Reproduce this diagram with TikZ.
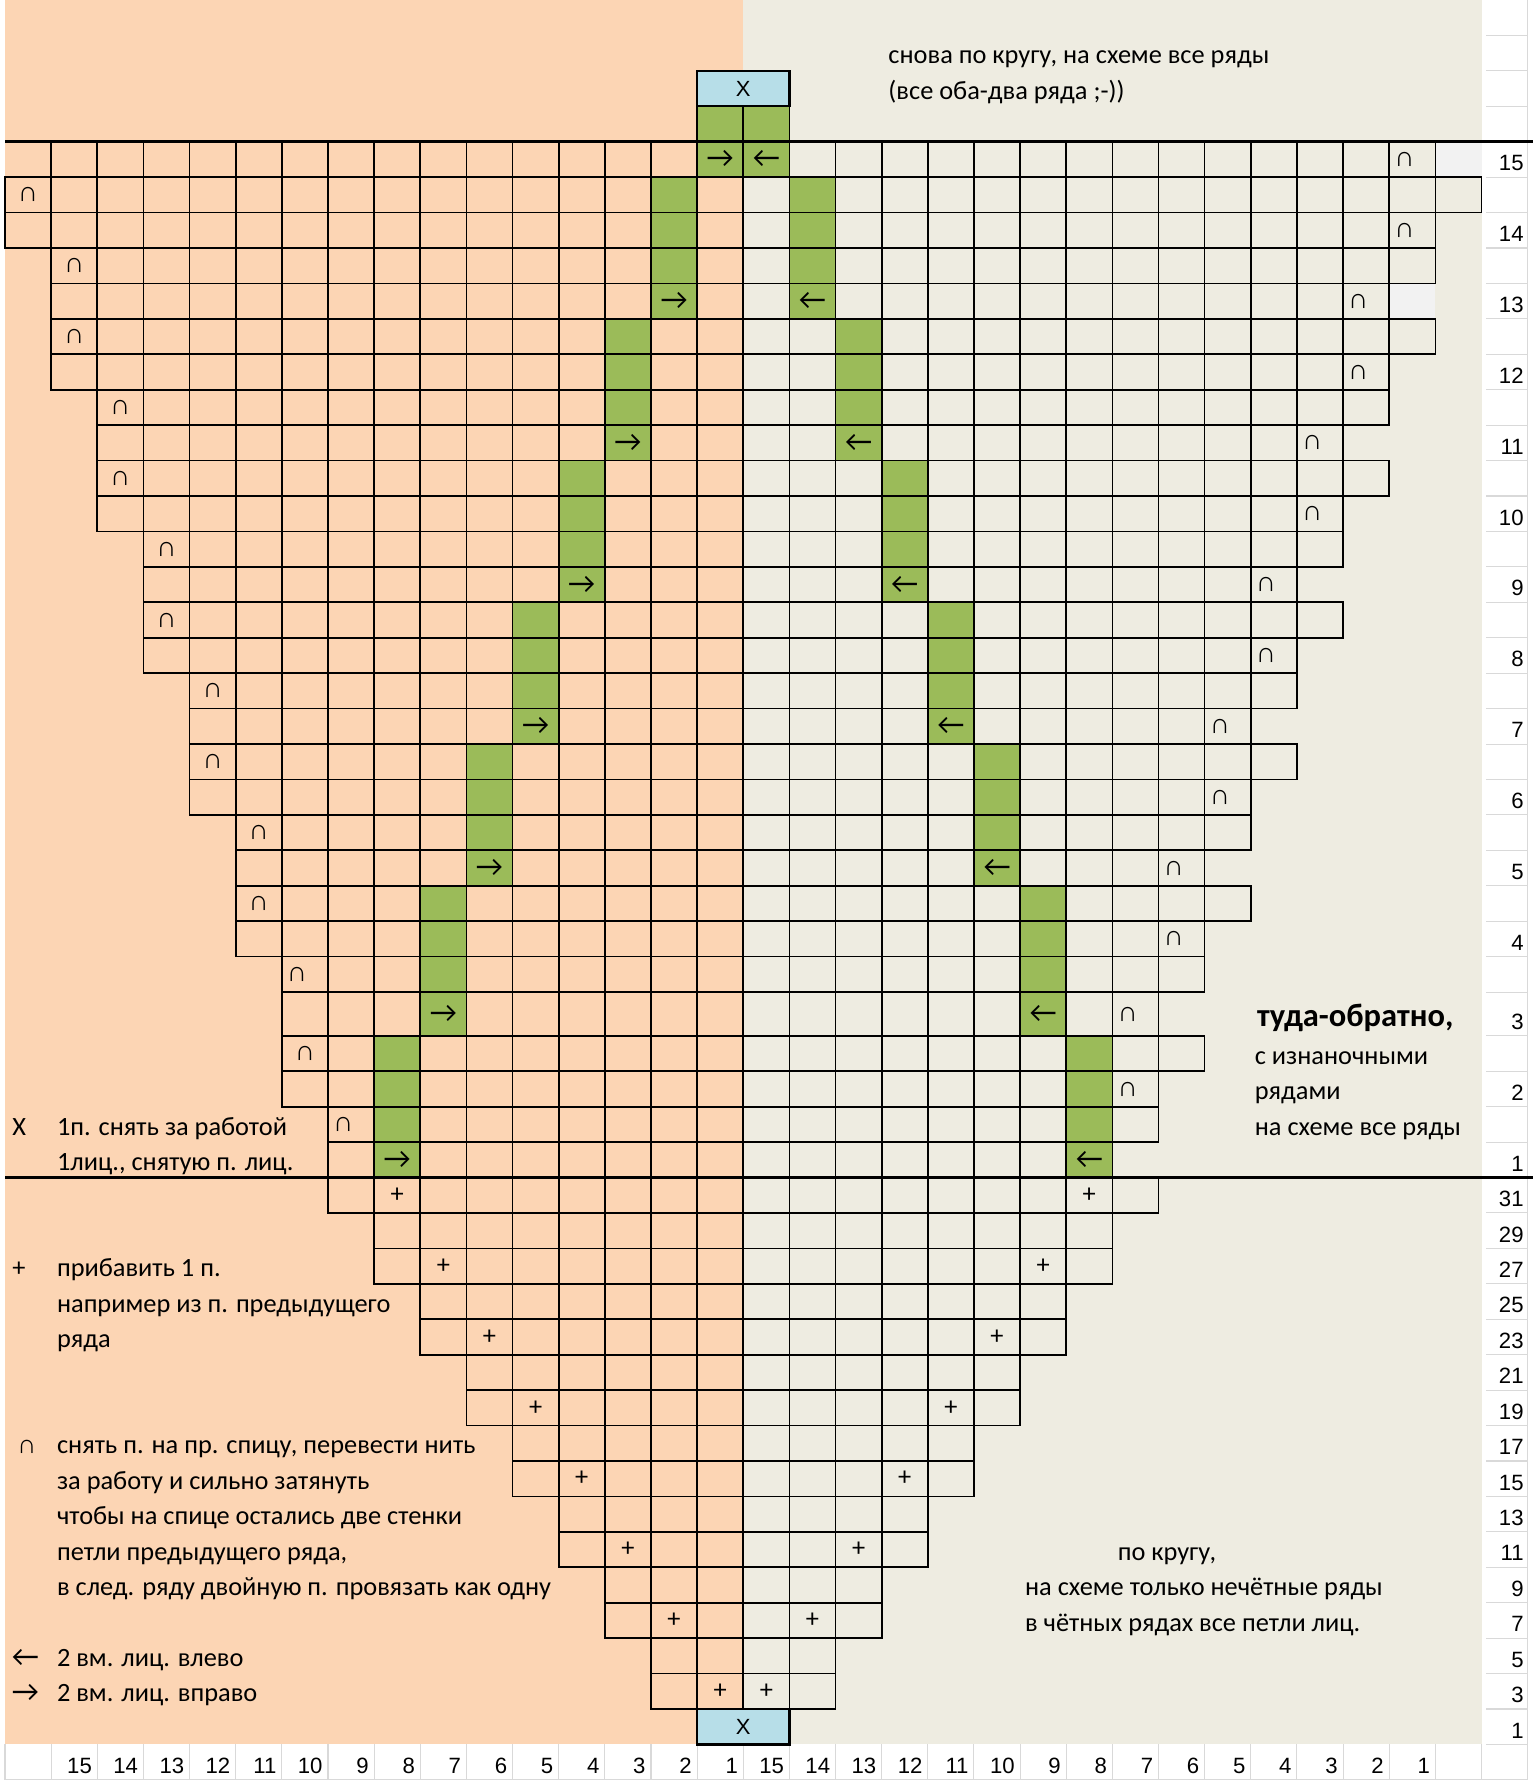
\documentclass[tikz,border=0pt]{standalone}
\usepackage{fontspec}
\usepackage{tikz}
\setmainfont{Carlito}
\newfontfamily\numfont{Liberation Sans}
\usetikzlibrary{positioning}

\definecolor{peachbg}{HTML}{FCD5B4}
\definecolor{tanbg}{HTML}{EEECE1}
\definecolor{leafgreen}{HTML}{9BBB59}
\definecolor{iceblue}{HTML}{B7DEE8}
\definecolor{paleg}{HTML}{F2F2F2}
\definecolor{sheetline}{HTML}{D9D9D9}

% one unit per row, row 28 is a little taller
\pgfmathdeclarefunction{rowy}{1}{\pgfmathparse{#1+0.235*(#1>28)}}

\begin{document}
\begin{tikzpicture}[
      x=0.9228cm, y=-0.7086cm,
      node distance=0.7086cm,
      cell/.style={draw=black,line width=0.95pt},
      slipbox/.style={draw=black,line width=1.3pt,fill=iceblue},
      split/.style={draw=black,line width=1.8pt},
      sheet/.style={draw=sheetline,line width=0.6pt},
      legend/.style={anchor=base west,inner sep=0pt,font=\fontsize{15}{18}\selectfont},
      nextline/.style={below=of #1,anchor=base west},
      rownum/.style={anchor=base east,inner sep=0pt,font=\numfont\fontsize{12.6}{14}\selectfont},
      glyph/.style={inner sep=0pt,font=\fontsize{17}{17}\selectfont},
      loopmark/.style={inner sep=0pt,font=\numfont\fontsize{16}{16}\selectfont},
      plusmark/.style={inner sep=0pt,font=\fontsize{15}{15}\selectfont},
      slipmark/.style={inner sep=0pt,font=\numfont\fontsize{12.5}{13}\selectfont}
    ]
    % sheet and the two halves
    \useasboundingbox (-0.1084,0) rectangle (33.117,50.381);
    \fill[white] (-0.1084,0) rectangle (33.117,50.381);
    \fill[peachbg] (0,0) rectangle (16,{rowy(49)});
    \fill[tanbg] (16,0) rectangle (32,{rowy(49)});
    \foreach \r in {1,...,50}
      \draw[sheet] (32.1,{rowy(\r)}) -- (33,{rowy(\r)});
    \draw[sheet] (33,0) -- (33,{rowy(50)});
    \foreach \c in {0,...,32}
      \draw[sheet] (\c,{rowy(49)}) -- (\c,{rowy(50)});
    \draw[sheet] (0,{rowy(50)}) -- (33,{rowy(50)});

    % decrease columns
    \foreach \k in {0,...,6}{
      \fill[leafgreen] ({14-\k},{rowy(5+4*\k)}) rectangle ({15-\k},{rowy(9+4*\k)});
      \fill[leafgreen] ({17+\k},{rowy(5+4*\k)}) rectangle ({18+\k},{rowy(9+4*\k)});
    }
    \fill[leafgreen] (15,3) rectangle (17,5);
    \fill[paleg] (31,4) rectangle (32,5);
    \fill[paleg] (30,8) rectangle (31,9);

    % upper part, back and forth
    \foreach \r in {4,...,32}{
      \pgfmathtruncatemacro\cfirst{\r==4 ? 1 : floor((\r-3)/4)}
      \pgfmathtruncatemacro\clast{30-floor((\r-4)/4)+(mod(\r-4,4)==1)}
      \foreach \c in {\cfirst,...,\clast}
        \draw[cell] (\c,{rowy(\r)}) rectangle ({\c+1},{rowy(\r+1)});
    }
    % lower part, in the round
    \foreach \r in {33,...,47}{
      \pgfmathtruncatemacro\cfirst{7+floor((\r-32)/2)}
      \pgfmathtruncatemacro\clast{31-\cfirst}
      \foreach \c in {\cfirst,...,\clast}
        \draw[cell] (\c,{rowy(\r)}) rectangle ({\c+1},{rowy(\r+1)});
    }
    \draw[cell] (15,3) rectangle (16,4) (16,3) rectangle (17,4);
    \draw[slipbox] (15,2) rectangle (17,3);
    \node[slipmark] (slip-top) at (16,2.5) {X};
    \draw[slipbox] (15,{rowy(48)}) rectangle (17,{rowy(49)});
    \node[slipmark] (slip-bottom) at (16,{(rowy(48)+rowy(49))/2}) {X};

    \draw[split] (0,4) -- (33.117,4);
    \draw[split] (0,{rowy(33)}) -- (33.117,{rowy(33)});

    % symbols in the cells
    \node[glyph] (dec-r) at (15.5,4.5) {→};
    \node[glyph] (dec-l) at (16.5,4.5) {←};
    \foreach \k in {0,...,6}{
      \pgfmathsetmacro\ym{(rowy(8+4*\k)+rowy(9+4*\k))/2}
      \node[glyph] (dec-r\k) at ({14.5-\k},\ym) {→};
      \node[glyph] (dec-l\k) at ({17.5+\k},\ym) {←};
    }
    \foreach \m in {0,...,13}{
      \pgfmathsetmacro\ya{(rowy(5+2*\m)+rowy(6+2*\m))/2}
      \pgfmathsetmacro\yb{(rowy(4+2*\m)+rowy(5+2*\m))/2}
      \pgfmathsetmacro\xa{floor((\m+1)/2)+(\m==11 || \m==13 ? 0.33 : 0.5)}
      \pgfmathsetmacro\xb{30-floor(\m/2)+0.33}
      \node[loopmark] (wrap-l\m) at (\xa,\ya) {∩};
      \node[loopmark] (wrap-r\m) at (\xb,\yb) {∩};
    }
    \foreach \m in {0,...,7}{
      \pgfmathsetmacro\ym{(rowy(33+2*\m)+rowy(34+2*\m))/2}
      \node[plusmark] (inc-l\m) at ({8.5+\m},\ym) {+};
      \node[plusmark] (inc-r\m) at ({23.5-\m},\ym) {+};
    }

    % row and stitch numbers
    \foreach \i in {0,...,14}{
      \pgfmathtruncatemacro\lab{15-\i}
      \node[rownum] (row-a\lab) at (32.92,{rowy(5+2*\i)-0.18}) {\lab};
    }
    \foreach \i in {0,...,15}{
      \pgfmathtruncatemacro\lab{31-2*\i}
      \node[rownum] (row-b\lab) at (32.92,{rowy(34+\i)-0.18}) {\lab};
    }
    \foreach \c in {1,...,30}{
      \pgfmathtruncatemacro\lab{\c<16 ? 16-\c : 31-\c}
      \node[rownum] (stitch\c) at ({\c+0.89},{rowy(50)-0.18}) {\lab};
    }

    % legend
    \node[legend] (key-x) at (0.15,{rowy(32)-0.2}) {X};
    \node[legend] (key-x-a) at (1.12,{rowy(32)-0.2}) {1п. снять за работой};
    \node[legend,nextline=key-x-a.base west] (key-x-b) {1лиц., снятую п. лиц.};
    \node[legend] (key-plus) at (0.15,{rowy(36)-0.2}) {+};
    \node[legend] (key-plus-a) at (1.12,{rowy(36)-0.2}) {прибавить 1 п.};
    \node[legend,nextline=key-plus-a.base west] (key-plus-b) {например из п. предыдущего};
    \node[legend,nextline=key-plus-b.base west] (key-plus-c) {ряда};
    \node[legend,font=\numfont\fontsize{15}{15}\selectfont] (key-wrap) at (0.26,{rowy(41)-0.2}) {∩};
    \node[legend] (key-wrap-a) at (1.12,{rowy(41)-0.2}) {снять п. на пр. спицу, перевести нить};
    \node[legend,nextline=key-wrap-a.base west] (key-wrap-b) {за работу и сильно затянуть};
    \node[legend,nextline=key-wrap-b.base west] (key-wrap-c) {чтобы на спице остались две стенки};
    \node[legend,nextline=key-wrap-c.base west] (key-wrap-d) {петли предыдущего ряда,};
    \node[legend,nextline=key-wrap-d.base west] (key-wrap-e) {в след. ряду двойную п. провязать как одну};
    \node[legend,font=\fontsize{17}{17}\selectfont] (key-left) at (0.14,{rowy(47)-0.2}) {←};
    \node[legend] (key-left-a) at (1.12,{rowy(47)-0.2}) {2 вм. лиц. влево};
    \node[legend,font=\fontsize{17}{17}\selectfont] (key-right) at (0.14,{rowy(48)-0.2}) {→};
    \node[legend] (key-right-a) at (1.12,{rowy(48)-0.2}) {2 вм. лиц. вправо};

    % notes
    \node[legend] (note-top-a) at (19.14,{rowy(2)-0.2}) {снова по кругу, на схеме все ряды};
    \node[legend,nextline=note-top-a.base west] (note-top-b) {(все оба-два ряда ;-))};
    \node[legend,font=\bfseries\fontsize{18.5}{22}\selectfont] (note-mid-a) at (27.13,{rowy(29)-0.27}) {туда-обратно,};
    \node[legend] (note-mid-b) at (27.08,{rowy(30)-0.2}) {с изнаночными};
    \node[legend,nextline=note-mid-b.base west] (note-mid-c) {рядами};
    \node[legend,nextline=note-mid-c.base west] (note-mid-d) {на схеме все ряды};
    \node[legend] (note-low-a) at (24.11,{rowy(44)-0.2}) {по кругу,};
    \node[legend] (note-low-b) at (22.1,{rowy(45)-0.2}) {на схеме только нечётные ряды};
    \node[legend,nextline=note-low-b.base west] (note-low-c) {в чётных рядах все петли лиц.};
\end{tikzpicture}
\end{document}
